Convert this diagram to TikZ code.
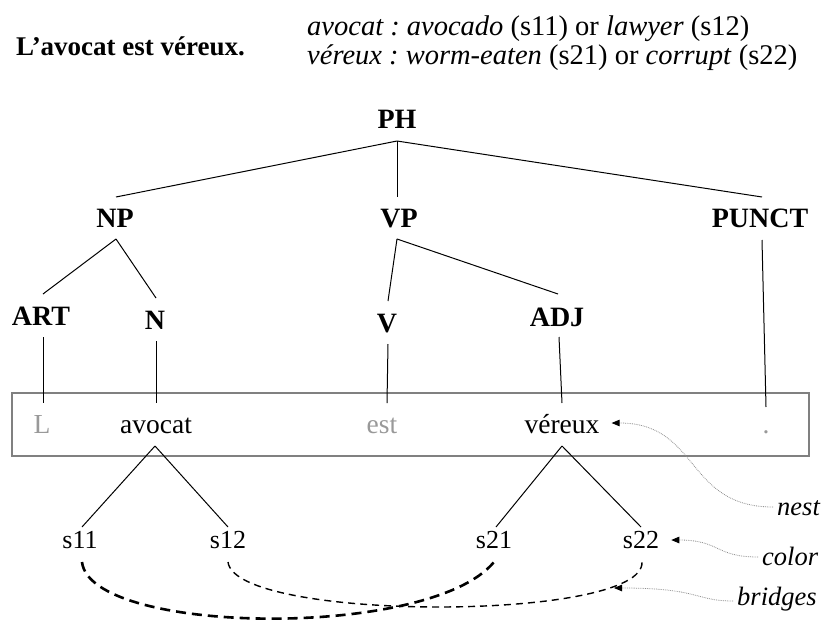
\documentclass[tikz,border=0pt]{standalone}
\usepackage{fontspec}
\setmainfont{Liberation Serif}
\usetikzlibrary{calc,arrows.meta}
\frenchspacing
\tikzset{
  lab/.style={anchor=base, inner sep=0pt, font=\fontsize{28}{30}\selectfont\bfseries},
  word/.style={anchor=base, inner sep=0pt, font=\fontsize{27.5}{30}\selectfont},
  greyword/.style={word, text=gray!80},
  sense/.style={anchor=base, inner sep=0pt, font=\fontsize{26}{30}\selectfont},
  ann/.style={anchor=base west, inner sep=0pt, font=\fontsize{26.5}{30}\selectfont\itshape},
  header/.style={anchor=base west, inner sep=0pt, font=\fontsize{28.5}{30}\selectfont},
  tree/.style={black, line width=1pt},
  sentbox/.style={draw=gray, line width=1.6pt, inner sep=0pt},
  note/.style={gray!90, densely dotted, line width=0.8pt, -{Triangle[length=8pt,width=6.5pt,color=black]}},
  thickbridge/.style={line width=2.6pt, dash pattern=on 10pt off 6pt},
  thinbridge/.style={line width=1.4pt, dash pattern=on 7pt off 5pt},
}
\begin{document}
\begin{tikzpicture}[x=1pt,y=-1pt]
\useasboundingbox (0,0) rectangle (825,624);
% header
\node[anchor=base west, inner sep=0pt, font=\fontsize{27}{30}\selectfont\bfseries] (title) at (16,55) {L’avocat est véreux.};
\node[header] (gl1) at (307,35) {\textit{avocat : avocado} (s11) or \textit{lawyer} (s12)};
\node[header] (gl2) at (307,64) {\textit{véreux : worm-eaten} (s21) or \textit{corrupt} (s22)};
% tree labels
\node[lab] (PH) at (397,128) {PH};
\node[lab] (NP) at (115,227) {NP};
\node[lab] (VP) at (399,227) {VP};
\node[lab] (PUNCT) at (760,227) {PUNCT};
\node[lab] (ART) at (41,325) {ART};
\node[lab] (N) at (155,329) {N};
\node[lab] (V) at (387,332) {V};
\node[lab] (ADJ) at (557,326) {ADJ};
% sentence box
\node[sentbox, minimum width=797pt, minimum height=63pt] (sbox) at (410.5,424.5) {};
\node[greyword] (w1) at (42,433) {L};
\node[word] (w2) at (156,433) {avocat};
\node[greyword] (w3) at (382,433) {est};
\node[word] (w4) at (562,433) {véreux};
\node[greyword] (w5) at (766,433) {.};
% senses
\node[sense] (s11) at (80,548) {s11};
\node[sense] (s12) at (228,548) {s12};
\node[sense] (s21) at (494,548) {s21};
\node[sense] (s22) at (641,548) {s22};
% annotations
\node[ann] (nest) at (777,515) {nest};
\node[ann] (color) at (762,565) {color};
\node[ann] (bridges) at (737,605) {bridges};
\coordinate (bridgetip) at (614,588);
% tree edges
\draw[tree] ($(PH.base)+(0,13)$) -- ($(NP.base)+(1,-30)$);
\draw[tree] ($(PH.base)+(0,13)$) -- ($(VP.base)+(-2,-30)$);
\draw[tree] ($(PH.base)+(0,13)$) -- ($(PUNCT.base)+(2,-30)$);
\draw[tree] ($(NP.base)+(1,12)$) -- ($(ART.base)+(2,-31)$);
\draw[tree] ($(NP.base)+(1,12)$) -- ($(N.base)+(1,-31)$);
\draw[tree] ($(VP.base)+(-2,12)$) -- ($(V.base)+(1,-31)$);
\draw[tree] ($(VP.base)+(-2,12)$) -- ($(ADJ.base)+(1,-32)$);
\draw[tree] ($(PUNCT.base)+(2,13)$) -- ($(w5.base)+(0,-26)$);
\draw[tree] ($(ART.base)+(2,12)$) -- ($(w1.base)+(1,-30)$);
\draw[tree] ($(N.base)+(1,12)$) -- ($(w2.base)+(0,-30)$);
\draw[tree] ($(V.base)+(1,12)$) -- ($(w3.base)+(5,-30)$);
\draw[tree] ($(ADJ.base)+(2,11)$) -- ($(w4.base)+(0,-30)$);
% sense edges
\draw[tree] ($(w2.base)+(-1,13)$) -- ($(s11.base)+(2,-21)$);
\draw[tree] ($(w2.base)+(-1,13)$) -- ($(s12.base)+(0,-21)$);
\draw[tree] ($(w4.base)+(0,13)$) -- ($(s21.base)+(2,-21)$);
\draw[tree] ($(w4.base)+(0,13)$) -- ($(s22.base)+(0,-21)$);
% bridges
\draw[thickbridge] ($(s11.base)+(2,14)$) .. controls (90,635) and (430,640) .. ($(s21.base)+(0,14)$);
\draw[thinbridge] ($(s12.base)+(0,14)$) .. controls (235,622) and (645,622) .. ($(s22.base)+(1,14)$);
% annotation arrows
\draw[note] ($(nest.base west)+(-4,-8)$) .. controls (685,507) and (700,423) .. ($(w4.base east)+(12,-10)$);
\draw[note] ($(color.base west)+(-4,-8)$) .. controls (715,557) and (720,540) .. ($(s22.base east)+(12,-8)$);
\draw[note] ($(bridges.base west)+(-4,-4)$) .. controls (695,601) and (700,588) .. (bridgetip);
\end{tikzpicture}
\end{document}
